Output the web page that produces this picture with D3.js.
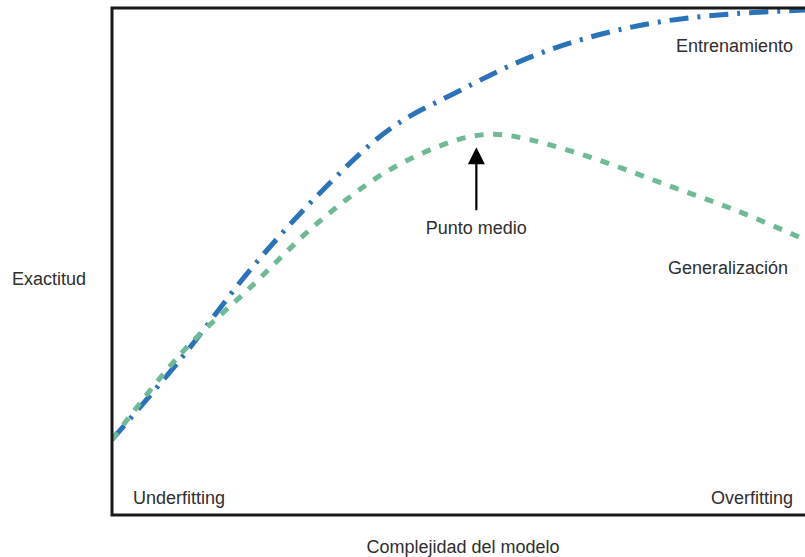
<!DOCTYPE html>
<html><head><meta charset="utf-8">
<script src="https://cdn.jsdelivr.net/npm/d3@7"></script>
<style>html,body{margin:0;padding:0;background:#fff;overflow:hidden}</style>
</head><body>
<svg id="c" width="805" height="557"></svg>
<script>
// complexity (0..10) and accuracy (0..1)
const complexity = [0, 1, 2, 3, 4, 5, 6, 7, 8, 9, 10];
const training = [0.15, 0.31, 0.485, 0.635, 0.76, 0.835, 0.90, 0.945, 0.973, 0.987, 0.994];
const genX = [0, 1, 2, 3, 4, 5, 5.5, 6, 7, 8, 9, 10];
const generalization = [0.15, 0.32, 0.45, 0.58, 0.68, 0.74, 0.75, 0.74, 0.70, 0.65, 0.60, 0.542];
const peak = {x: 5.25, y: 0.75};
const labels = {x: "Complejidad del modelo", y: "Exactitud", train: "Entrenamiento", gen: "Generalización", mid: "Punto medio", under: "Underfitting", over: "Overfitting"};

const svg = d3.select("#c");
const L = 112, R = 806, T = 8, B = 515;
const x = d3.scaleLinear().domain([0, 10]).range([L, R]);
const y = d3.scaleLinear().domain([0, 1]).range([B + 1, T - 1]);
const font = "'Liberation Sans', Arial, Helvetica, sans-serif";

const line = d3.line().x(d => x(d[0])).y(d => y(d[1])).curve(d3.curveCatmullRom.alpha(0.5));

const g = svg.append("g");
g.append("defs").append("clipPath").attr("id", "clip").append("rect")
  .attr("x", L).attr("y", T).attr("width", R - L).attr("height", B - T);

const plot = g.append("g").attr("clip-path", "url(#clip)");
plot.append("path").datum(complexity.map((c, i) => [c, training[i]]))
  .attr("d", line).attr("fill", "none").attr("stroke", "#2a73b9")
  .attr("stroke-width", 5).attr("stroke-dasharray", "19,9,3,9");
plot.append("path").datum(genX.map((c, i) => [c, generalization[i]]))
  .attr("d", line).attr("fill", "none").attr("stroke", "#6fba96")
  .attr("stroke-width", 5).attr("stroke-dasharray", "9,9.5");

// frame
g.append("path").attr("d", `M${R + 2},${T} H${L} V${B} H${R + 2}`)
  .attr("fill", "none").attr("stroke", "#1a1a1a").attr("stroke-width", 3);

// arrow
const ax = x(peak.x), tipY = y(peak.y) + 13;
g.append("line").attr("x1", ax).attr("x2", ax).attr("y1", tipY + 14).attr("y2", tipY + 63)
  .attr("stroke", "#000").attr("stroke-width", 2.2);
g.append("path").attr("d", `M${ax},${tipY} L${ax - 8.5},${tipY + 17} L${ax + 8.5},${tipY + 17} Z`).attr("fill", "#000");

function txt(t, xx, yy, anchor) {
  g.append("text").attr("x", xx).attr("y", yy).attr("text-anchor", anchor || "start")
    .attr("font-family", font).attr("font-size", 18).attr("fill", "#2e2e2e").text(t);
}
txt(labels.train, 676, 52);
txt(labels.gen, 668, 274);
txt(labels.mid, ax, 234, "middle");
txt(labels.under, 133, 504);
txt(labels.over, 793, 504, "end");
txt(labels.y, 12, 285);
txt(labels.x, 463, 553, "middle");
</script>
</body></html>
